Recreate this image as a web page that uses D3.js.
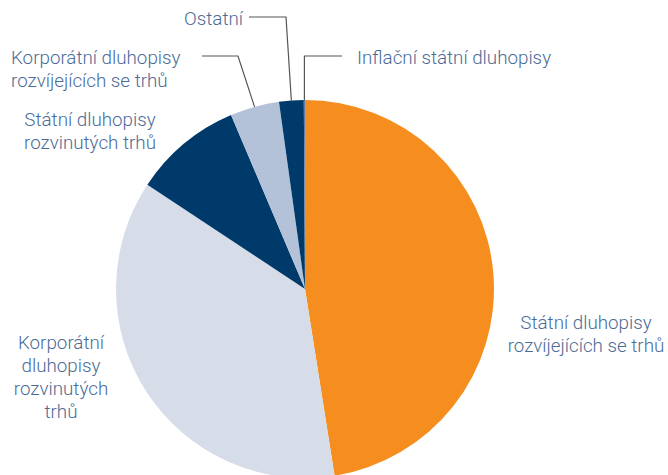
<!DOCTYPE html>
<html>
<head>
<meta charset="utf-8">
<script src="https://cdn.jsdelivr.net/npm/d3@7"></script>
<style>
  body { margin: 0; background: #fff; }
  text { font-family: Roboto, "Liberation Sans", sans-serif; font-weight: 300; }
</style>
</head>
<body>
<div id="chart"></div>
<script>
// slices clockwise from 12 o'clock
const categories = [
    "Státní dluhopisy rozvíjejících se trhů",
    "Korporátní dluhopisy rozvinutých trhů",
    "Státní dluhopisy rozvinutých trhů",
    "Korporátní dluhopisy rozvíjejících se trhů",
    "Ostatní",
    "Inflační státní dluhopisy"
];
const shares = [47.5, 36.8, 9.3, 4.2, 2.1, 0.1];
const colors = ["#f68e1f", "#d6dde9", "#003a6b", "#b4c2d9", "#003a6b", "#5b7fae"];

// label text lines
const labelLines = [
    ["Státní dluhopisy", "rozvíjejících se trhů"],
    ["Korporátní", "dluhopisy", "rozvinutých", "trhů"],
    ["Státní dluhopisy", "rozvinutých trhů"],
    ["Korporátní dluhopisy", "rozvíjejících se trhů"],
    ["Ostatní"],
    ["Inflační státní dluhopisy"]
];

const width = 668, height = 475;
const cx = 305, cy = 289, radius = 189;

const svg = d3.select("#chart")
    .append("svg")
    .attr("width", width)
    .attr("height", height);

let data = categories.map((c, i) => ({ name: c, value: shares[i], color: colors[i], lines: labelLines[i] }));

let pie = d3.pie()
    .sort(null)
    .value(d => d.value);

let arc = d3.arc()
    .innerRadius(0)
    .outerRadius(radius);

let g = svg.append("g")
    .attr("transform", `translate(${cx},${cy})`);

let arcs = pie(data);

g.selectAll("path.slice")
    .data(arcs)
    .enter()
    .append("path")
    .attr("class", "slice")
    .attr("d", arc)
    .attr("fill", d => d.data.color);

// point on the rim at the middle of a slice (page coords)
function rimPoint(d) {
    let a = (d.startAngle + d.endAngle) / 2;
    return [cx + radius * Math.sin(a), cy - radius * Math.cos(a)];
}

// label layout: anchor x, first baseline, alignment, leader elbow
const layout = [
    { x: 586, y: 329, anchor: "middle" },
    { x: 61, y: 349, anchor: "middle" },
    { x: 90, y: 126, anchor: "middle" },
    { x: 11, y: 64, anchor: "start", leader: { x0: 202, y: 56, x1: 238 } },
    { x: 243, y: 25, anchor: "end", leader: { x0: 249, y: 17, x1: 286 } },
    { x: 357, y: 64, anchor: "start", leader: { x0: 342, y: 56, x1: null } }
];
const lineHeight = 23;

arcs.forEach((d, i) => {
    let l = layout[i];
    let t = svg.append("text")
        .attr("x", l.x)
        .attr("y", l.y)
        .attr("text-anchor", l.anchor)
        .style("font-size", "18.8px")
        .style("fill", "#4a6b96");
    d.data.lines.forEach((s, j) => {
        t.append("tspan")
            .attr("x", l.x)
            .attr("y", l.y + j * lineHeight)
            .text(s);
    });

    if (l.leader) {
        let p = rimPoint(d);
        let elbowX = l.leader.x1 === null ? p[0] : l.leader.x1;
        let pts = [[l.leader.x0, l.leader.y], [elbowX, l.leader.y], p];
        svg.append("path")
            .attr("d", d3.line()(pts))
            .attr("fill", "none")
            .attr("stroke", "#555")
            .attr("stroke-width", 1.2);
    }
});
</script>
</body>
</html>
